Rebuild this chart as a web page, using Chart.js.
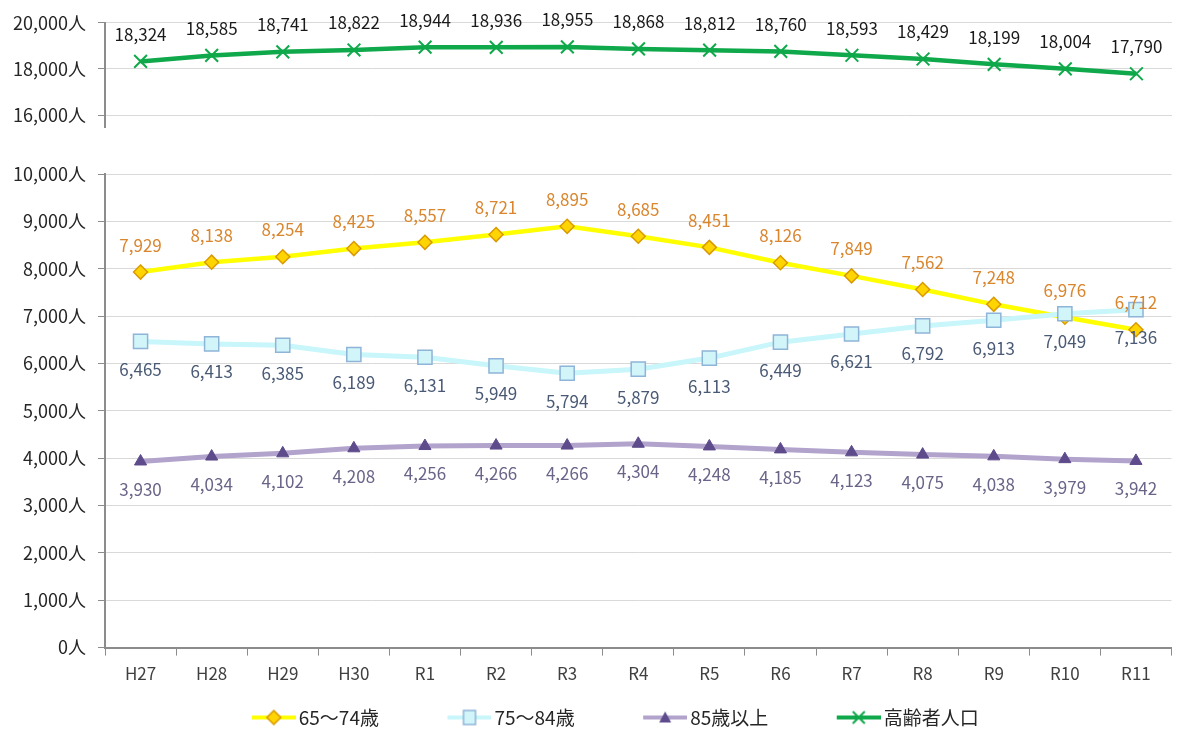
<!DOCTYPE html>
<html lang="ja">
<head>
<meta charset="utf-8">
<script src="https://cdn.jsdelivr.net/npm/chart.js@4.4.1/dist/chart.umd.min.js"></script>
<style>
  body { margin: 0; background: #fff; width: 1183px; height: 729px; overflow: hidden; position: relative; }
  #topWrap { position: absolute; left: 0; top: 0; width: 1183px; height: 140px; }
  #bottomWrap { position: absolute; left: 0; top: 145px; width: 1183px; height: 594px; }
</style>
</head>
<body>
<div id="topWrap"><canvas id="topChart"></canvas></div>
<div id="bottomWrap"><canvas id="bottomChart"></canvas></div>
<script>
// 年度
const years = ['H27', 'H28', 'H29', 'H30', 'R1', 'R2', 'R3', 'R4', 'R5', 'R6', 'R7', 'R8', 'R9', 'R10', 'R11'];

// 系列データ
const totalElderly = [18324, 18585, 18741, 18822, 18944, 18936, 18955, 18868, 18812, 18760, 18593, 18429, 18199, 18004, 17790];
const age65to74 = [7929, 8138, 8254, 8425, 8557, 8721, 8895, 8685, 8451, 8126, 7849, 7562, 7248, 6976, 6712];
const age75to84 = [6465, 6413, 6385, 6189, 6131, 5949, 5794, 5879, 6113, 6449, 6621, 6792, 6913, 7049, 7136];
const age85plus = [3930, 4034, 4102, 4208, 4256, 4266, 4266, 4304, 4248, 4185, 4123, 4075, 4038, 3979, 3942];

// 軸の範囲
const topRange = [16000, 20000, 2000];
const bottomRange = [0, 10000, 1000];

const FONT = '"Noto Sans CJK JP", "Noto Sans", sans-serif';
const AXIS_COLOR = '#8c8c8c';
const GRID_COLOR = '#d9d9d9';

const fmt = v => Number(v).toLocaleString('en-US');

// データラベル描画
const valueLabels = {
    id: 'valueLabels',
    afterDatasetsDraw(chart) {
        const ctx = chart.ctx;
        chart.data.datasets.forEach((ds, i) => {
            const meta = chart.getDatasetMeta(i);
            ctx.save();
            ctx.font = '17px ' + FONT;
            ctx.fillStyle = ds.labelColor;
            ctx.textAlign = 'center';
            ctx.textBaseline = 'middle';
            meta.data.forEach((pt, j) => {
                ctx.fillText(fmt(ds.data[j]), pt.x, pt.y + ds.labelOffset);
            });
            ctx.restore();
        });
    }
};

// 上段の縦軸を少し下へ延ばす
const axisTail = {
    id: 'axisTail',
    afterDraw(chart) {
        const a = chart.chartArea;
        const ctx = chart.ctx;
        ctx.save();
        ctx.strokeStyle = AXIS_COLOR;
        ctx.lineWidth = 2;
        ctx.beginPath();
        ctx.moveTo(a.left, a.bottom);
        ctx.lineTo(a.left, a.bottom + 13);
        ctx.stroke();
        ctx.restore();
    }
};

// 凡例アイコン（線＋マーカー）: 左側は余白
const ICON_BOX = 90;
function legendIcon(lineColor, lineWidth, drawMarker) {
    const c = document.createElement('canvas');
    c.width = ICON_BOX + 13; c.height = 18;
    const g = c.getContext('2d');
    const x0 = c.width - 44;
    g.strokeStyle = lineColor;
    g.lineWidth = lineWidth;
    g.beginPath();
    g.moveTo(x0, 9); g.lineTo(c.width, 9);
    g.stroke();
    drawMarker(g, x0 + 22, 9);
    return c;
}

const yellowIcon = legendIcon('#ffff00', 4, (g, x, y) => {
    g.fillStyle = '#ffd400'; g.strokeStyle = '#d99a00'; g.lineWidth = 1.5;
    g.beginPath(); g.moveTo(x, y - 7); g.lineTo(x + 7, y); g.lineTo(x, y + 7); g.lineTo(x - 7, y); g.closePath();
    g.fill(); g.stroke();
});
const cyanIcon = legendIcon('#c8f6fa', 4, (g, x, y) => {
    g.fillStyle = '#d2f5fa'; g.strokeStyle = '#8eb4d8'; g.lineWidth = 1.5;
    g.fillRect(x - 6, y - 7, 12, 14); g.strokeRect(x - 6, y - 7, 12, 14);
});
const purpleIcon = legendIcon('#b1a3cc', 4, (g, x, y) => {
    g.fillStyle = '#5e4b8b';
    g.beginPath(); g.moveTo(x, y - 6); g.lineTo(x + 6, y + 5); g.lineTo(x - 6, y + 5); g.closePath();
    g.fill();
});
const greenIcon = legendIcon('#0fa84a', 4, (g, x, y) => {
    g.strokeStyle = '#0fa84a'; g.lineWidth = 2;
    g.beginPath(); g.moveTo(x - 6, y - 6); g.lineTo(x + 6, y + 6); g.moveTo(x + 6, y - 6); g.lineTo(x - 6, y + 6);
    g.stroke();
});

function yAxis(range) {
    return {
        min: range[0],
        max: range[1],
        afterFit: s => { s.width = 105; },
        ticks: {
            stepSize: range[2],
            padding: 12,
            color: '#262626',
            font: { family: FONT, size: 18 },
            callback: v => fmt(v) + '人'
        },
        grid: { color: GRID_COLOR, tickColor: AXIS_COLOR, tickLength: 7 },
        border: { color: AXIS_COLOR, width: 2 }
    };
}

// 上段：高齢者人口
new Chart(document.getElementById('topChart'), {
    type: 'line',
    data: {
        labels: years,
        datasets: [{
            label: '高齢者人口',
            data: totalElderly,
            borderColor: '#0fa84a',
            borderWidth: 4.5,
            pointStyle: 'crossRot',
            pointRadius: 9,
            pointBorderWidth: 2,
            pointBorderColor: '#0fa84a',
            labelColor: '#1a1a1a',
            labelOffset: -27
        }]
    },
    options: {
        responsive: true,
        maintainAspectRatio: false,
        animation: false,
        layout: { padding: { top: 20, bottom: 25, left: 0, right: 5 } },
        plugins: { legend: { display: false }, tooltip: { enabled: false } },
        scales: {
            x: { display: false, offset: true },
            y: yAxis(topRange)
        }
    },
    plugins: [valueLabels, axisTail]
});

const legendItem = (text, icon) => ({
    text: text, pointStyle: icon, fontColor: '#262626',
    lineWidth: 0, strokeStyle: 'transparent', fillStyle: 'transparent'
});

// 下段：年齢区分別
new Chart(document.getElementById('bottomChart'), {
    type: 'line',
    data: {
        labels: years,
        datasets: [{
            label: '65～74歳',
            data: age65to74,
            borderColor: '#ffff00',
            borderWidth: 4.5,
            pointStyle: 'rectRot',
            pointRadius: 7,
            pointBackgroundColor: '#ffd400',
            pointBorderColor: '#d99a00',
            pointBorderWidth: 1.5,
            labelColor: '#d9862e',
            labelOffset: -27,
            order: 3
        }, {
            label: '75～84歳',
            data: age75to84,
            borderColor: '#c8f6fa',
            borderWidth: 5,
            pointStyle: 'rect',
            pointRadius: 10,
            pointBackgroundColor: '#d2f5fa',
            pointBorderColor: '#8eb4d8',
            pointBorderWidth: 1.5,
            labelColor: '#4a5a75',
            labelOffset: 28,
            order: 2
        }, {
            label: '85歳以上',
            data: age85plus,
            borderColor: '#b1a3cc',
            borderWidth: 5,
            pointStyle: 'triangle',
            pointRadius: 7,
            pointBackgroundColor: '#5e4b8b',
            pointBorderColor: '#5e4b8b',
            pointBorderWidth: 1,
            labelColor: '#6a6488',
            labelOffset: 28,
            order: 1
        }]
    },
    options: {
        responsive: true,
        maintainAspectRatio: false,
        animation: false,
        layout: { padding: { top: 29, bottom: 2, left: 0, right: 5 } },
        plugins: {
            tooltip: { enabled: false },
            legend: {
                position: 'bottom',
                labels: {
                    usePointStyle: true,
                    pointStyleWidth: ICON_BOX,
                    padding: 16,
                    color: '#262626',
                    font: { family: FONT, size: 19 },
                    generateLabels: () => [
                        legendItem('65～74歳', yellowIcon),
                        legendItem('75～84歳', cyanIcon),
                        legendItem('85歳以上', purpleIcon),
                        legendItem('高齢者人口', greenIcon)
                    ]
                }
            }
        },
        scales: {
            x: {
                offset: true,
                ticks: {
                    padding: 8,
                    color: '#404040',
                    font: { family: FONT, size: 17 }
                },
                grid: { offset: true, drawOnChartArea: false, tickColor: AXIS_COLOR, tickLength: 8 },
                border: { color: AXIS_COLOR, width: 2 }
            },
            y: yAxis(bottomRange)
        }
    },
    plugins: [valueLabels]
});
</script>
</body>
</html>
